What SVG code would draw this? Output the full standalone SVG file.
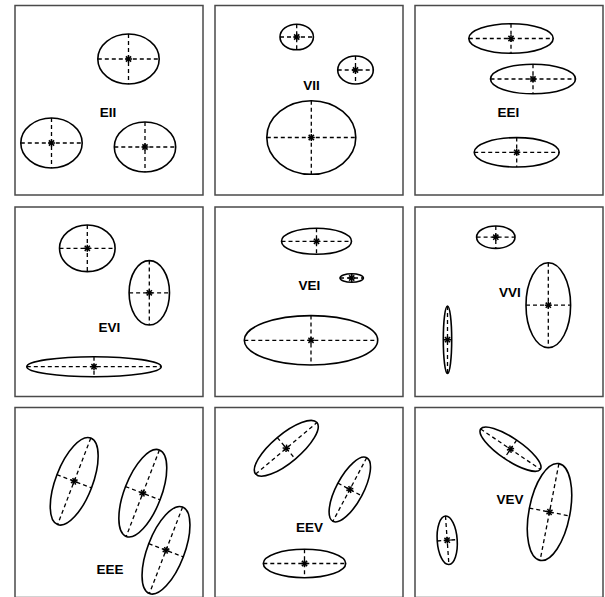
<svg xmlns="http://www.w3.org/2000/svg" xmlns:xlink="http://www.w3.org/1999/xlink" width="605" height="597" viewBox="0 0 605 597">
<style>
.frame{fill:none;stroke:#4a4a4a;stroke-width:1.5}
.ell{fill:none;stroke:#000;stroke-width:1.6}
.ax{stroke:#000;stroke-width:1.3;stroke-dasharray:4,3}
.lbl{font-family:"Liberation Sans",Arial,sans-serif;font-weight:bold;font-size:13.5px;text-anchor:middle;fill:#000}
</style>
<defs>
<g id="star" stroke="#000" stroke-width="1.5">
<line x1="-3.5" y1="0" x2="3.5" y2="0"/>
<line x1="0" y1="-3.5" x2="0" y2="3.5"/>
<line x1="-2.6" y1="-2.6" x2="2.6" y2="2.6"/>
<line x1="-2.6" y1="2.6" x2="2.6" y2="-2.6"/>
</g>
</defs>
<rect width="605" height="597" fill="#fff"/>

<g id="panel-EII">
<rect class="frame" x="15" y="5.5" width="188" height="189.5"/>
<text class="lbl" x="108" y="117">EII</text>
<g id="EII-1" transform="translate(128.5,59)"><ellipse class="ell" rx="30.7" ry="25"/><line class="ax" x1="-30.7" y1="0" x2="30.7" y2="0"/><line class="ax" x1="0" y1="-25" x2="0" y2="25"/><use href="#star"/></g>
<g id="EII-2" transform="translate(51.5,143)"><ellipse class="ell" rx="30.7" ry="25"/><line class="ax" x1="-30.7" y1="0" x2="30.7" y2="0"/><line class="ax" x1="0" y1="-25" x2="0" y2="25"/><use href="#star"/></g>
<g id="EII-3" transform="translate(145,147)"><ellipse class="ell" rx="30.7" ry="25"/><line class="ax" x1="-30.7" y1="0" x2="30.7" y2="0"/><line class="ax" x1="0" y1="-25" x2="0" y2="25"/><use href="#star"/></g>
</g>

<g id="panel-VII">
<rect class="frame" x="215" y="5.5" width="188" height="189.5"/>
<text class="lbl" x="311.5" y="90">VII</text>
<g id="VII-1" transform="translate(296.7,37)"><ellipse class="ell" rx="16.7" ry="12.8"/><line class="ax" x1="-16.7" y1="0" x2="16.7" y2="0"/><line class="ax" x1="0" y1="-12.8" x2="0" y2="12.8"/><use href="#star"/></g>
<g id="VII-2" transform="translate(355.5,70)"><ellipse class="ell" rx="17.8" ry="14"/><line class="ax" x1="-17.8" y1="0" x2="17.8" y2="0"/><line class="ax" x1="0" y1="-14" x2="0" y2="14"/><use href="#star"/></g>
<g id="VII-3" transform="translate(311.3,137.5)"><ellipse class="ell" rx="44.5" ry="36.8"/><line class="ax" x1="-44.5" y1="0" x2="44.5" y2="0"/><line class="ax" x1="0" y1="-36.8" x2="0" y2="36.8"/><use href="#star"/></g>
</g>

<g id="panel-EEI">
<rect class="frame" x="415" y="5.5" width="188" height="189.5"/>
<text class="lbl" x="508.5" y="116.5">EEI</text>
<g id="EEI-1" transform="translate(511,38.5)"><ellipse class="ell" rx="42.2" ry="14.7"/><line class="ax" x1="-42.2" y1="0" x2="42.2" y2="0"/><line class="ax" x1="0" y1="-14.7" x2="0" y2="14.7"/><use href="#star"/></g>
<g id="EEI-2" transform="translate(533,79)"><ellipse class="ell" rx="42.5" ry="14.8"/><line class="ax" x1="-42.5" y1="0" x2="42.5" y2="0"/><line class="ax" x1="0" y1="-14.8" x2="0" y2="14.8"/><use href="#star"/></g>
<g id="EEI-3" transform="translate(516.7,152.3)"><ellipse class="ell" rx="42.5" ry="14.7"/><line class="ax" x1="-42.5" y1="0" x2="42.5" y2="0"/><line class="ax" x1="0" y1="-14.7" x2="0" y2="14.7"/><use href="#star"/></g>
</g>

<g id="panel-EVI">
<rect class="frame" x="15" y="207" width="188" height="189.5"/>
<text class="lbl" x="109.5" y="331.5">EVI</text>
<g id="EVI-1" transform="translate(87.3,248.3)"><ellipse class="ell" rx="27.8" ry="23.3"/><line class="ax" x1="-27.8" y1="0" x2="27.8" y2="0"/><line class="ax" x1="0" y1="-23.3" x2="0" y2="23.3"/><use href="#star"/></g>
<g id="EVI-2" transform="translate(149.3,292.8)"><ellipse class="ell" rx="20.2" ry="32.2"/><line class="ax" x1="-20.2" y1="0" x2="20.2" y2="0"/><line class="ax" x1="0" y1="-32.2" x2="0" y2="32.2"/><use href="#star"/></g>
<g id="EVI-3" transform="translate(94,366.7)"><ellipse class="ell" rx="67.2" ry="10"/><line class="ax" x1="-67.2" y1="0" x2="67.2" y2="0"/><line class="ax" x1="0" y1="-10" x2="0" y2="10"/><use href="#star"/></g>
</g>

<g id="panel-VEI">
<rect class="frame" x="215" y="207" width="188" height="189.5"/>
<text class="lbl" x="309.5" y="290">VEI</text>
<g id="VEI-1" transform="translate(316.5,241.3)"><ellipse class="ell" rx="35" ry="13"/><line class="ax" x1="-35" y1="0" x2="35" y2="0"/><line class="ax" x1="0" y1="-13" x2="0" y2="13"/><use href="#star"/></g>
<g id="VEI-2" transform="translate(351.7,278)"><ellipse class="ell" rx="11.7" ry="4.3"/><line class="ax" x1="-11.7" y1="0" x2="11.7" y2="0"/><line class="ax" x1="0" y1="-4.3" x2="0" y2="4.3"/><use href="#star"/></g>
<g id="VEI-3" transform="translate(311,340.3)"><ellipse class="ell" rx="66.7" ry="24.7"/><line class="ax" x1="-66.7" y1="0" x2="66.7" y2="0"/><line class="ax" x1="0" y1="-24.7" x2="0" y2="24.7"/><use href="#star"/></g>
</g>

<g id="panel-VVI">
<rect class="frame" x="415" y="207" width="188" height="189.5"/>
<text class="lbl" x="510" y="296.5">VVI</text>
<g id="VVI-1" transform="translate(495.8,237.2)"><ellipse class="ell" rx="19.2" ry="11.2"/><line class="ax" x1="-19.2" y1="0" x2="19.2" y2="0"/><line class="ax" x1="0" y1="-11.2" x2="0" y2="11.2"/><use href="#star"/></g>
<g id="VVI-2" transform="translate(548.3,305.2)"><ellipse class="ell" rx="22.3" ry="42.5"/><line class="ax" x1="-22.3" y1="0" x2="22.3" y2="0"/><line class="ax" x1="0" y1="-42.5" x2="0" y2="42.5"/><use href="#star"/></g>
<g id="VVI-3" transform="translate(447.5,339.7)"><ellipse class="ell" rx="4.2" ry="33.7"/><line class="ax" x1="-4.2" y1="0" x2="4.2" y2="0"/><line class="ax" x1="0" y1="-33.7" x2="0" y2="33.7"/><use href="#star"/></g>
</g>

<g id="panel-EEE">
<rect class="frame" x="15" y="407.5" width="188" height="190"/>
<text class="lbl" x="110" y="573.5">EEE</text>
<g id="EEE-1" transform="translate(74.2,481.3) rotate(21)"><ellipse class="ell" rx="18.5" ry="46.3"/><line class="ax" x1="-18.5" y1="0" x2="18.5" y2="0"/><line class="ax" x1="0" y1="-46.3" x2="0" y2="46.3"/><use href="#star"/></g>
<g id="EEE-2" transform="translate(142.8,493.2) rotate(21)"><ellipse class="ell" rx="18.5" ry="46.3"/><line class="ax" x1="-18.5" y1="0" x2="18.5" y2="0"/><line class="ax" x1="0" y1="-46.3" x2="0" y2="46.3"/><use href="#star"/></g>
<g id="EEE-3" transform="translate(166,550.3) rotate(21)"><ellipse class="ell" rx="18.5" ry="46.3"/><line class="ax" x1="-18.5" y1="0" x2="18.5" y2="0"/><line class="ax" x1="0" y1="-46.3" x2="0" y2="46.3"/><use href="#star"/></g>
</g>

<g id="panel-EEV">
<rect class="frame" x="215" y="407.5" width="188" height="190"/>
<text class="lbl" x="309.5" y="532">EEV</text>
<g id="EEV-1" transform="translate(286.3,448.3) rotate(-40)"><ellipse class="ell" rx="40" ry="14"/><line class="ax" x1="-40" y1="0" x2="40" y2="0"/><line class="ax" x1="0" y1="-14" x2="0" y2="14"/><use href="#star"/></g>
<g id="EEV-2" transform="translate(349.8,489.5) rotate(28)"><ellipse class="ell" rx="13.5" ry="36"/><line class="ax" x1="-13.5" y1="0" x2="13.5" y2="0"/><line class="ax" x1="0" y1="-36" x2="0" y2="36"/><use href="#star"/></g>
<g id="EEV-3" transform="translate(304.5,563.5)"><ellipse class="ell" rx="41.2" ry="14.2"/><line class="ax" x1="-41.2" y1="0" x2="41.2" y2="0"/><line class="ax" x1="0" y1="-14.2" x2="0" y2="14.2"/><use href="#star"/></g>
</g>

<g id="panel-VEV">
<rect class="frame" x="415" y="407.5" width="188" height="190"/>
<text class="lbl" x="510" y="504">VEV</text>
<g id="VEV-1" transform="translate(510.5,449.2) rotate(34)"><ellipse class="ell" rx="36" ry="11"/><line class="ax" x1="-36" y1="0" x2="36" y2="0"/><line class="ax" x1="0" y1="-11" x2="0" y2="11"/><use href="#star"/></g>
<g id="VEV-2" transform="translate(549.5,512) rotate(11)"><ellipse class="ell" rx="20.5" ry="49.3"/><line class="ax" x1="-20.5" y1="0" x2="20.5" y2="0"/><line class="ax" x1="0" y1="-49.3" x2="0" y2="49.3"/><use href="#star"/></g>
<g id="VEV-3" transform="translate(447.2,540.3) rotate(-4)"><ellipse class="ell" rx="10" ry="24.3"/><line class="ax" x1="-10" y1="0" x2="10" y2="0"/><line class="ax" x1="0" y1="-24.3" x2="0" y2="24.3"/><use href="#star"/></g>
</g>
</svg>
